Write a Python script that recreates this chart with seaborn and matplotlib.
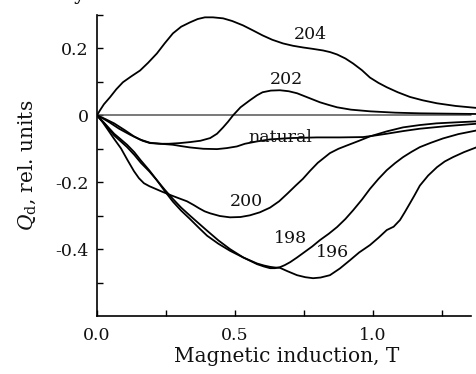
import numpy as np
import pandas as pd
import matplotlib
matplotlib.use("Agg")
import matplotlib.pyplot as plt
import seaborn as sns

# ---- data ----
x204 = [0, 0.01, 0.025, 0.047, 0.07, 0.094, 0.125, 0.156, 0.185, 0.217, 0.245, 0.275, 0.305, 0.337,
        0.365, 0.391, 0.42, 0.457, 0.49, 0.529, 0.565, 0.60, 0.635, 0.674, 0.71, 0.746, 0.78, 0.819,
        0.845, 0.87, 0.90, 0.928, 0.96, 0.989, 1.02, 1.05, 1.09, 1.134, 1.18, 1.232, 1.30, 1.377]
y204 = [0, 0.014, 0.033, 0.054, 0.078, 0.099, 0.117, 0.134, 0.157, 0.185, 0.215, 0.245, 0.265, 0.278,
        0.288, 0.293, 0.293, 0.290, 0.282, 0.269, 0.254, 0.239, 0.226, 0.215, 0.208, 0.203, 0.199, 0.194,
        0.189, 0.182, 0.170, 0.155, 0.135, 0.113, 0.097, 0.084, 0.069, 0.055, 0.045, 0.036, 0.028, 0.022]

x202 = [0, 0.03, 0.062, 0.1, 0.134, 0.165, 0.192, 0.23, 0.26, 0.30, 0.337, 0.375, 0.41, 0.435, 0.457,
        0.475, 0.493, 0.52, 0.554, 0.58, 0.60, 0.63, 0.663, 0.695, 0.725, 0.765, 0.808, 0.84, 0.87,
        0.92, 0.989, 1.08, 1.17, 1.27, 1.377]
y202 = [0, -0.011, -0.024, -0.044, -0.063, -0.076, -0.083, -0.085, -0.085, -0.083, -0.080, -0.076,
        -0.068, -0.055, -0.036, -0.019, 0.0, 0.024, 0.045, 0.060, 0.069, 0.074, 0.075, 0.072, 0.066,
        0.053, 0.039, 0.031, 0.024, 0.017, 0.012, 0.008, 0.006, 0.005, 0.004]

xnat = [0, 0.025, 0.047, 0.08, 0.12, 0.155, 0.192, 0.23, 0.275, 0.305, 0.337, 0.385, 0.435, 0.47,
        0.507, 0.536, 0.58, 0.627, 0.70, 0.797, 0.88, 0.964, 1.01, 1.05, 1.11, 1.17, 1.27, 1.377]
ynat = [0, -0.011, -0.022, -0.040, -0.058, -0.072, -0.082, -0.085, -0.088, -0.092, -0.096, -0.100,
        -0.101, -0.098, -0.093, -0.085, -0.078, -0.072, -0.068, -0.066, -0.066, -0.065, -0.060, -0.055,
        -0.047, -0.040, -0.032, -0.025]

x200 = [0, 0.02, 0.036, 0.06, 0.087, 0.11, 0.134, 0.152, 0.17, 0.19, 0.207, 0.235, 0.268, 0.3, 0.326,
        0.35, 0.37, 0.39, 0.41, 0.445, 0.482, 0.52, 0.554, 0.59, 0.627, 0.66, 0.69, 0.72, 0.746, 0.772,
        0.80, 0.844, 0.875, 0.906, 0.95, 0.989, 1.05, 1.109, 1.17, 1.23, 1.30, 1.377]
y200 = [0, -0.020, -0.039, -0.068, -0.099, -0.133, -0.167, -0.188, -0.203, -0.212, -0.218, -0.228,
        -0.239, -0.249, -0.257, -0.268, -0.278, -0.287, -0.293, -0.301, -0.305, -0.304, -0.299, -0.290,
        -0.276, -0.257, -0.234, -0.210, -0.190, -0.166, -0.142, -0.113, -0.100, -0.090, -0.076, -0.063,
        -0.048, -0.036, -0.029, -0.024, -0.021, -0.018]

x198 = [0, 0.03, 0.062, 0.085, 0.109, 0.135, 0.159, 0.19, 0.217, 0.245, 0.275, 0.305, 0.337, 0.37,
        0.399, 0.44, 0.482, 0.53, 0.58, 0.605, 0.627, 0.645, 0.663, 0.68, 0.70, 0.725, 0.75, 0.78, 0.808,
        0.84, 0.87, 0.90, 0.928, 0.96, 0.989, 1.02, 1.05, 1.08, 1.109, 1.14, 1.17, 1.21, 1.254, 1.31, 1.377]
y198 = [0, -0.028, -0.060, -0.077, -0.095, -0.118, -0.142, -0.168, -0.194, -0.222, -0.250, -0.276,
        -0.300, -0.324, -0.345, -0.374, -0.400, -0.425, -0.445, -0.452, -0.457, -0.457, -0.454, -0.448,
        -0.439, -0.425, -0.410, -0.392, -0.373, -0.354, -0.334, -0.310, -0.284, -0.252, -0.220, -0.190,
        -0.164, -0.143, -0.125, -0.109, -0.095, -0.082, -0.069, -0.056, -0.045]

x196 = [0, 0.03, 0.062, 0.085, 0.109, 0.135, 0.159, 0.19, 0.217, 0.245, 0.275, 0.305, 0.337, 0.37,
        0.399, 0.44, 0.482, 0.53, 0.58, 0.605, 0.627, 0.645, 0.663, 0.69, 0.725, 0.755, 0.783, 0.81,
        0.844, 0.88, 0.917, 0.95, 0.989, 1.02, 1.05, 1.075, 1.098, 1.115, 1.134, 1.15, 1.17, 1.2, 1.232,
        1.26, 1.29, 1.33, 1.377]
y196 = [0, -0.026, -0.055, -0.071, -0.088, -0.110, -0.135, -0.165, -0.194, -0.226, -0.258, -0.285,
        -0.310, -0.337, -0.360, -0.384, -0.405, -0.425, -0.443, -0.449, -0.453, -0.455, -0.456, -0.466,
        -0.478, -0.484, -0.487, -0.485, -0.478, -0.458, -0.433, -0.410, -0.388, -0.366, -0.343, -0.333,
        -0.313, -0.290, -0.263, -0.240, -0.210, -0.180, -0.155, -0.138, -0.125, -0.110, -0.095]

series_names = ["204", "202", "natural", "200", "198", "196"]
series_x = [x204, x202, xnat, x200, x198, x196]
series_y = [y204, y202, ynat, y200, y198, y196]

label_text = ["204", "202", "natural", "200", "198", "196"]
label_x = [0.772, 0.688, 0.663, 0.543, 0.700, 0.855]
label_y = [0.242, 0.107, -0.065, -0.257, -0.367, -0.410]

xticks = [0.0, 0.5, 1.0]
xticklabels = ["0.0", "0.5", "1.0"]
xminor = [0.25, 0.75, 1.25]
yticks = [-0.4, -0.2, 0.0, 0.2]
yticklabels = ["-0.4", "-0.2", "0", "0.2"]
yminor = [-0.5, -0.3, -0.1, 0.1, 0.3]

# ---- build long-form table ----
rows = []
for name, xs, ys in zip(series_names, series_x, series_y):
    for a, b in zip(xs, ys):
        rows.append({"sample": name, "B": a, "Q": b})
df = pd.DataFrame(rows)

sns.set_theme(style="ticks")
plt.rcParams["font.family"] = ["DejaVu Serif"]
plt.rcParams["mathtext.fontset"] = "dejavuserif"
FS = 12.5
LFS = 14.5

fig = plt.figure(figsize=(4.77, 3.74), dpi=100)
ax = fig.add_axes([97 / 477, 58 / 374, 380 / 477, 301 / 374])

ax.axhline(0, xmin=0, xmax=1.355 / 1.377, color="#555555", lw=1.1, zorder=1)

sns.lineplot(data=df, x="B", y="Q", hue="sample", units="sample", estimator=None,
             sort=False, palette=["black"] * len(series_names), legend=False,
             lw=1.3, ax=ax, zorder=3)
for ln in ax.get_lines():
    ln.set_solid_joinstyle("round")

for t, tx, ty in zip(label_text, label_x, label_y):
    ax.text(tx, ty, t, ha="center", va="center", fontsize=FS, color="#111111", zorder=4)

ax.set_xlim(0, 1.377)
ax.set_ylim(-0.6, 0.3)
ax.set_xticks(xticks)
ax.set_xticklabels(xticklabels)
ax.set_xticks(xminor, minor=True)
ax.set_yticks(yticks)
ax.set_yticklabels(yticklabels)
ax.set_yticks(yminor, minor=True)

ax.tick_params(which="both", direction="in", length=4, width=1.0, color="black",
               labelsize=FS, labelcolor="#111111")
ax.tick_params(axis="x", which="both", pad=8)
ax.tick_params(axis="y", which="both", pad=6)

for s in ["top", "right"]:
    ax.spines[s].set_visible(False)
for s in ["left", "bottom"]:
    ax.spines[s].set_linewidth(1.2)
    ax.spines[s].set_color("black")
ax.spines["bottom"].set_bounds(0, 1.355)

ax.set_xlabel("Magnetic induction, T", fontsize=LFS, color="#111111", labelpad=2)
ax.set_ylabel(r"$Q_\mathrm{d}$, rel. units", fontsize=LFS, color="#111111", labelpad=12)

fig.text(80 / 477, 1.0, "y", ha="center", va="baseline", fontsize=LFS, color="#111111")

fig.savefig("out.png", dpi=100)
